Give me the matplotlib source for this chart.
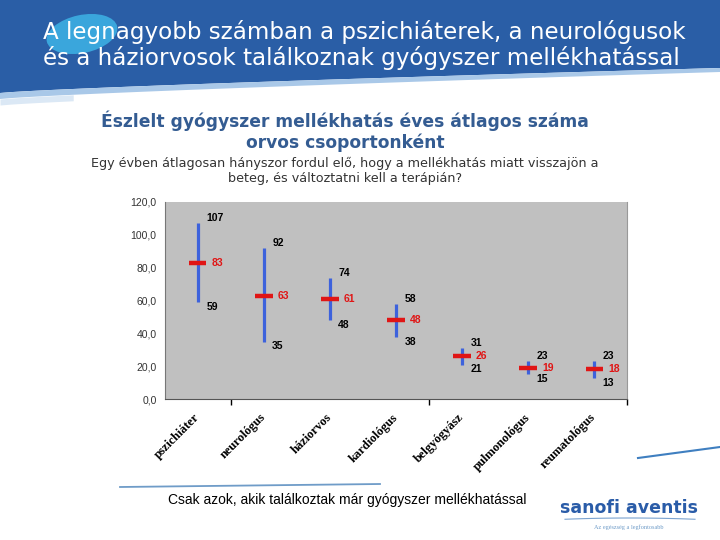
import numpy as np
import matplotlib
matplotlib.use("Agg")
import matplotlib.pyplot as plt
from matplotlib.patches import Polygon, Ellipse
from matplotlib.ticker import FuncFormatter

# data
specialties = ['pszichiáter', 'neurológus', 'háziorvos', 'kardiológus',
               'belgyógyász', 'pulmonológus', 'reumatológus']
max_vals = [107, 92, 74, 58, 31, 23, 23]
mean_vals = [83, 63, 61, 48, 26, 19, 18]
min_vals = [59, 35, 48, 38, 21, 15, 13]

title_lines = ['A legnagyobb számban a pszichiáterek, a neurológusok',
               'és a háziorvosok találkoznak gyógyszer mellékhatással']
subtitle = 'Észlelt gyógyszer mellékhatás éves átlagos száma\norvos csoportonként'
question = ('Egy évben átlagosan hányszor fordul elő, hogy a mellékhatás miatt visszajön a\n'
            'beteg, és változtatni kell a terápián?')
footnote = 'Csak azok, akik találkoztak már gyógyszer mellékhatással'

BLUE = '#3d62dc'
RED = '#e01515'
HEADER = '#2a5ea6'

fig = plt.figure(figsize=(7.2, 5.4), dpi=100)

# background layer in pixel coordinates for header / decorations
bg = fig.add_axes([0, 0, 1, 1], zorder=0)
bg.set_xlim(0, 720)
bg.set_ylim(540, 0)
bg.axis('off')

xs = np.linspace(0, 720, 60)
edge = 93 - 25 * (xs / 720) ** 0.8
bg.add_patch(Polygon(np.column_stack([np.r_[0, xs, 720], np.r_[0, edge, 0]]),
                     closed=True, color=HEADER, lw=0))
stripe_bot = edge + 6 - 2 * xs / 720
bg.fill_between(xs, edge, stripe_bot, color='#a9c8e8', lw=0)
left = xs < 80
bg.fill_between(xs[left], stripe_bot[left], stripe_bot[left] + 6,
                color='#dbe8f5', lw=0)
bg.add_patch(Ellipse((82, 34), 72, 38, angle=-12, color='#3aa6dc', lw=0))

for i, line in enumerate(title_lines):
    bg.text(43, 32 + i * 26, line, color='white', fontsize=16.6,
            family='DejaVu Sans', va='center', ha='left')

bg.text(345, 131, subtitle, color='#345c92', fontsize=12.3, fontweight='bold',
        family='DejaVu Sans', ha='center', va='center', linespacing=1.15)
bg.text(345, 171, question, color='#333333', fontsize=9.2,
        family='DejaVu Sans', ha='center', va='center', linespacing=1.15)

# footer decorations
lx = np.linspace(120, 380, 50)
bg.plot(lx, 487 - 3 * ((lx - 120) / 260), color='#6f9cc8', lw=1.3)
rx = np.linspace(638, 720, 20)
bg.plot(rx, 458 - 11 * ((rx - 638) / 82), color='#3f7fc0', lw=1.5)
bg.text(347, 500, footnote, fontsize=10, family='Liberation Sans',
        ha='center', va='center', color='black')
bg.text(629, 508, 'sanofi aventis', fontsize=12.5, fontweight='bold',
        family='DejaVu Sans', color='#2a5ca8', ha='center', va='center')
ax_ = np.linspace(565, 695, 30)
bg.plot(ax_, 518 + 0.0003 * (ax_ - 630) ** 2, color='#7ba3d0', lw=0.8)
bg.text(629, 527, 'Az egészség a legfontosabb', fontsize=4.5,
        family='Liberation Serif', color='#6f9cc8', ha='center', va='center')

# chart
ax = fig.add_axes([0.229, 0.261, 0.642, 0.365], zorder=1)
ax.set_facecolor('#c0c0c0')
pos = np.arange(len(specialties))

ax.vlines(pos, min_vals, max_vals, color=BLUE, lw=2.3, zorder=2)
ax.hlines(mean_vals, pos - 0.13, pos + 0.13, color=RED, lw=3.2, zorder=3)

lab_kw = dict(textcoords='offset points', va='center', ha='left',
              fontsize=7.5, fontweight='bold', family='Liberation Sans')
for p, hi, mu, lo in zip(pos, max_vals, mean_vals, min_vals):
    ax.annotate(str(hi), (p, hi), xytext=(6, 3.5), color='black', **lab_kw)
    ax.annotate(str(mu), (p, mu), xytext=(10, 0), color=RED, **lab_kw)
    ax.annotate(str(lo), (p, lo), xytext=(6, -3.5), color='black', **lab_kw)

ax.set_xlim(-0.5, len(specialties) - 0.5)
ax.set_ylim(0, 120)
ax.set_yticks(np.arange(0, 121, 20))
ax.yaxis.set_major_formatter(FuncFormatter(lambda v, _: f'{v:.1f}'.replace('.', ',')))
ax.tick_params(axis='y', length=0, pad=6, labelsize=7.5, labelcolor='#333333')
for lab in ax.get_yticklabels():
    lab.set_family('Liberation Sans')

ax.set_xticks(pos)
ax.set_xticklabels(specialties, rotation=45, ha='right', va='center',
                   rotation_mode='anchor', fontsize=9, fontweight='bold',
                   family='Liberation Serif')
ax.tick_params(axis='x', length=0, pad=12)
ax.set_xticks([0.5, 3.5, 6.5], minor=True)
ax.tick_params(axis='x', which='minor', length=4, width=1, color='black')

ax.spines['top'].set_visible(False)
ax.spines['left'].set_color('#777777')
ax.spines['bottom'].set_color('#555555')
ax.spines['right'].set_color('#999999')

fig.savefig('out.png', dpi=100)
